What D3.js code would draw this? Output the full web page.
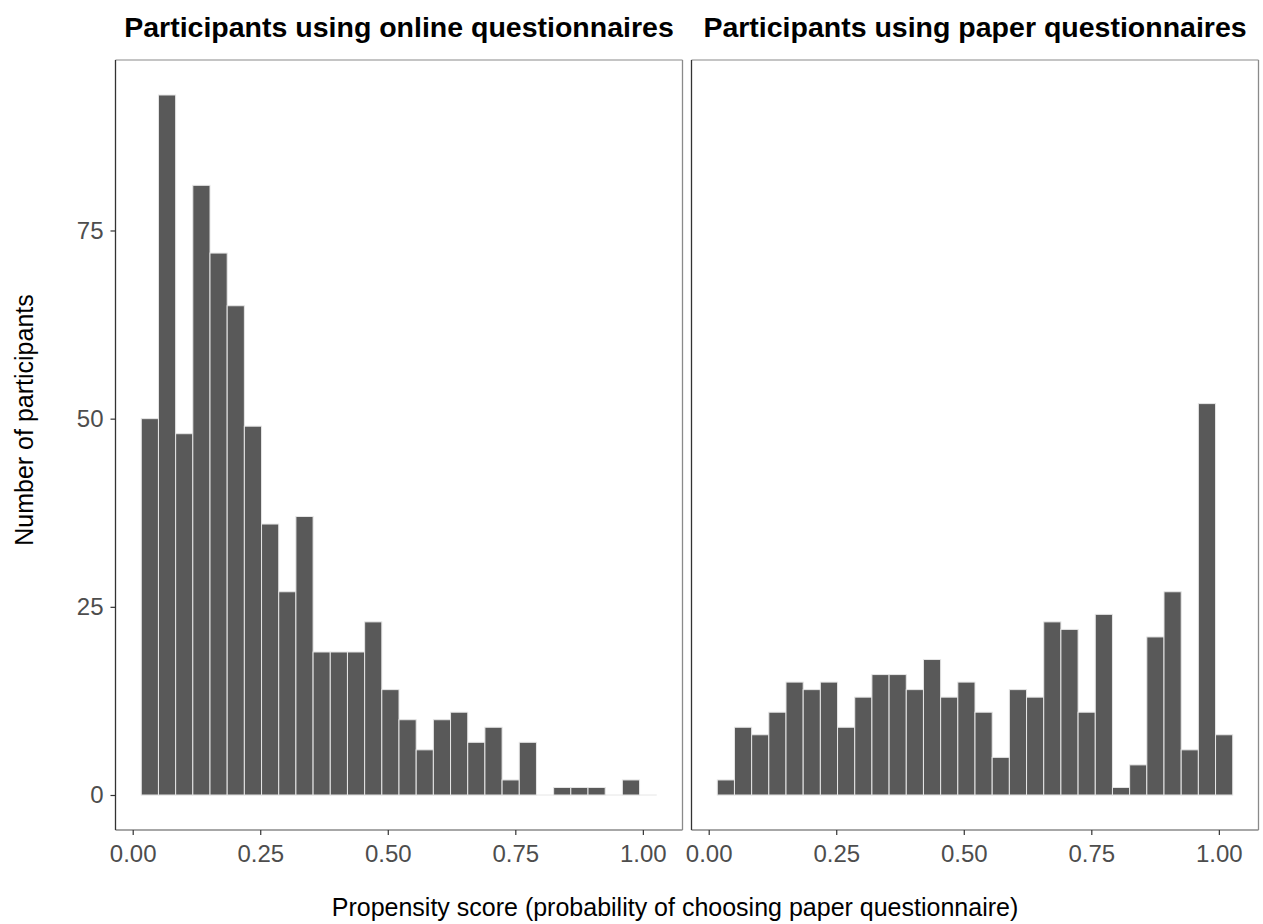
<!DOCTYPE html>
<html><head><meta charset="utf-8">
<script src="https://cdn.jsdelivr.net/npm/d3@7"></script>
<style>body{margin:0;background:#fff}svg{display:block}</style>
</head><body>
<script>
// ---- data ----
const panelTitles = ["Participants using online questionnaires", "Participants using paper questionnaires"];
const onlineCounts = [50,93,48,81,72,65,49,36,27,37,19,19,19,23,14,10,6,10,11,7,9,2,7,0,1,1,1,0,2,0];
const paperCounts  = [2,9,8,11,15,14,15,9,13,16,16,14,18,13,15,11,5,14,13,23,22,11,24,1,4,21,27,6,52,8];
const binStart = 0.0168;
const binWidth = 0.03368;
const xTicks = [0, 0.25, 0.5, 0.75, 1.0];
const yTicks = [0, 25, 50, 75];
const xLabel = "Propensity score (probability of choosing paper questionnaire)";
const yLabel = "Number of participants";

const W = 1263, H = 924;
const svg = d3.select("body").append("svg").attr("width", W).attr("height", H);
const font = "'Liberation Sans', Arial, sans-serif";

const panels = [
  {x0: 115.5, x1: 682.5, counts: onlineCounts, title: panelTitles[0]},
  {x0: 691.5, x1: 1258.5, counts: paperCounts, title: panelTitles[1]}
];
const y0 = 60, y1 = 830;

const nb = onlineCounts.length;
const dataMin = binStart, dataMax = binStart + nb * binWidth;
const xpad = (dataMax - dataMin) * 0.05;
const yMax = d3.max(onlineCounts.concat(paperCounts));
const y = d3.scaleLinear().domain([-yMax * 0.05, yMax * 1.05]).range([y1, y0]);

panels.forEach((p, pi) => {
  const x = d3.scaleLinear().domain([dataMin - xpad, dataMax + xpad]).range([p.x0, p.x1]);
  const g = svg.append("g");
  const bins = p.counts.map((c, i) => ({lo: binStart + i * binWidth, hi: binStart + (i + 1) * binWidth, c}));
  // faint baseline under all bins (outline of zero-height bins)
  g.append("line").attr("x1", x(dataMin)).attr("x2", x(dataMax)).attr("y1", y(0)).attr("y2", y(0))
    .attr("stroke", "#e6e6e6").attr("stroke-width", 1);
  g.selectAll("rect.bar").data(bins.filter(d => d.c > 0)).join("rect")
    .attr("class", "bar")
    .attr("x", d => x(d.lo))
    .attr("width", d => x(d.hi) - x(d.lo))
    .attr("y", d => y(d.c))
    .attr("height", d => y(0) - y(d.c))
    .attr("fill", "#595959")
    .attr("stroke", "#e6e6e6")
    .attr("stroke-width", 1);

  // frame
  g.append("line").attr("x1", p.x0).attr("x2", p.x1).attr("y1", y0).attr("y2", y0).attr("stroke", "#b0b0b0").attr("stroke-width", 1.3);
  g.append("line").attr("x1", p.x1).attr("x2", p.x1).attr("y1", y0).attr("y2", y1).attr("stroke", "#8a8a8a").attr("stroke-width", 1.3);
  g.append("line").attr("x1", p.x0).attr("x2", p.x1).attr("y1", y1).attr("y2", y1).attr("stroke", "#8a8a8a").attr("stroke-width", 1.3);
  g.append("line").attr("x1", p.x0).attr("x2", p.x0).attr("y1", y0).attr("y2", y1).attr("stroke", "#333").attr("stroke-width", 1.3);

  // x axis
  const xa = svg.append("g").attr("transform", `translate(0,${y1})`)
    .call(d3.axisBottom(x).tickValues(xTicks).tickFormat(d3.format(".2f")).tickSize(5).tickPadding(10));
  xa.select(".domain").remove();
  xa.selectAll("line").attr("stroke", "#333").attr("stroke-width", 1.2);
  xa.selectAll("text").attr("font-family", font).attr("font-size", 24).attr("fill", "#4d4d4d");

  if (pi === 0) {
    const ya = svg.append("g").attr("transform", `translate(${p.x0},0)`)
      .call(d3.axisLeft(y).tickValues(yTicks).tickSize(5).tickPadding(7));
    ya.select(".domain").remove();
    ya.selectAll("line").attr("stroke", "#333").attr("stroke-width", 1.2);
    ya.selectAll("text").attr("font-family", font).attr("font-size", 24).attr("fill", "#4d4d4d");
  }

  svg.append("text").attr("x", (p.x0 + p.x1) / 2).attr("y", 37)
    .attr("text-anchor", "middle").attr("font-family", font).attr("font-weight", "bold")
    .attr("font-size", 28.5).attr("fill", "#000").text(p.title);
});

svg.append("text").attr("x", 675).attr("y", 916).attr("text-anchor", "middle")
  .attr("font-family", font).attr("font-size", 25).attr("fill", "#000").text(xLabel);
svg.append("text").attr("transform", "translate(33,420) rotate(-90)").attr("text-anchor", "middle")
  .attr("font-family", font).attr("font-size", 25).attr("fill", "#000").text(yLabel);
</script>
</body></html>
